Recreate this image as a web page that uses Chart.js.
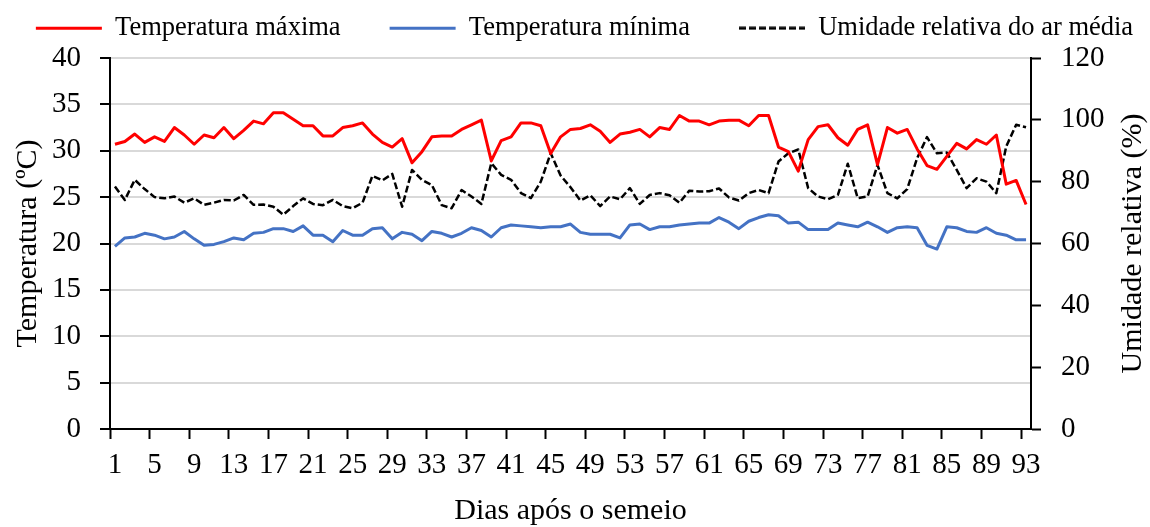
<!DOCTYPE html>
<html>
<head>
<meta charset="utf-8">
<script src="https://cdn.jsdelivr.net/npm/chart.js@4"></script>
<style>
  body { margin: 0; background: #fff; }
</style>
</head>
<body>
<canvas id="chart" width="1150" height="527"></canvas>
<script>
// dias apos o semeio
var dias = []
for (let d = 1; d <= 93; d++) dias.push(String(d))

var tempMax = [30.7, 31.0, 31.8, 30.9, 31.5, 31.0, 32.5, 31.7, 30.7, 31.7,
    31.4, 32.5, 31.3, 32.2, 33.2, 32.9, 34.1, 34.1, 33.4, 32.7,
    32.7, 31.6, 31.6, 32.5, 32.7, 33.0, 31.8, 30.9, 30.4, 31.3,
    28.7, 29.9, 31.5, 31.6, 31.6, 32.3, 32.8, 33.3, 28.9, 31.1,
    31.5, 33.0, 33.0, 32.7, 29.7, 31.5, 32.3, 32.4, 32.8, 32.1,
    30.9, 31.8, 32.0, 32.3, 31.5, 32.5, 32.3, 33.8, 33.2, 33.2,
    32.8, 33.2, 33.3, 33.3, 32.7, 33.8, 33.8, 30.4, 29.9, 27.8,
    31.2, 32.6, 32.8, 31.4, 30.6, 32.3, 32.8, 28.5, 32.5, 31.9,
    32.3, 30.2, 28.4, 28.0, 29.4, 30.8, 30.2, 31.2, 30.7, 31.7,
    26.4, 26.8, 24.2]

var tempMin = [19.7, 20.6, 20.7, 21.1, 20.9, 20.5, 20.7, 21.3, 20.5, 19.8,
    19.9, 20.2, 20.6, 20.4, 21.1, 21.2, 21.6, 21.6, 21.3, 21.9,
    20.9, 20.9, 20.2, 21.4, 20.9, 20.9, 21.6, 21.7, 20.5, 21.2,
    21.0, 20.3, 21.3, 21.1, 20.7, 21.1, 21.7, 21.4, 20.7, 21.7,
    22.0, 21.9, 21.8, 21.7, 21.8, 21.8, 22.1, 21.2, 21.0, 21.0,
    21.0, 20.6, 22.0, 22.1, 21.5, 21.8, 21.8, 22.0, 22.1, 22.2,
    22.2, 22.8, 22.3, 21.6, 22.4, 22.8, 23.1, 23.0, 22.2, 22.3,
    21.5, 21.5, 21.5, 22.2, 22.0, 21.8, 22.3, 21.8, 21.2, 21.7,
    21.8, 21.7, 19.8, 19.4, 21.8, 21.7, 21.3, 21.2, 21.7, 21.1,
    20.9, 20.4, 20.4]

var umidade = [78.4, 74.1, 80.6, 77.6, 75.0, 74.6, 75.2, 73.2, 74.6, 72.5,
    73.2, 74.1, 73.9, 75.7, 72.5, 72.6, 71.9, 69.3, 72.1, 74.6,
    72.8, 72.4, 74.1, 72.1, 71.4, 73.2, 81.9, 80.4, 82.5, 71.9,
    83.8, 80.6, 78.9, 72.4, 71.4, 77.3, 75.2, 72.8, 86.0, 82.2,
    80.6, 76.3, 74.7, 80.0, 89.2, 82.0, 78.2, 73.9, 75.6, 72.1,
    75.2, 74.3, 77.9, 72.8, 75.7, 76.3, 75.6, 73.2, 77.1, 76.8,
    76.9, 77.8, 74.9, 73.9, 76.3, 77.3, 76.3, 86.5, 89.2, 90.4,
    77.9, 75.2, 74.3, 75.7, 85.8, 74.7, 75.2, 85.4, 76.3, 74.6,
    77.6, 87.6, 94.4, 89.2, 89.4, 83.8, 77.9, 81.1, 80.0, 76.3,
    91.4, 98.4, 97.6]

var serif = "'Liberation Serif', 'Times New Roman', serif"
Chart.defaults.font.family = serif
Chart.defaults.color = '#000'

// legend symbol for the dashed series (the 'line' point style ignores the dash)
function dashedIcon(color, width, dash) {
    const c = document.createElement('canvas')
    c.width = 66
    c.height = 4
    const g = c.getContext('2d')
    g.strokeStyle = color
    g.lineWidth = width
    g.setLineDash(dash)
    g.beginPath()
    g.moveTo(0, 2)
    g.lineTo(66, 2)
    g.stroke()
    return c
}

// right axis title reads bottom to top like the left one
const rightTitle = {
    id: 'rightTitle',
    afterDraw(chart) {
        const ctx = chart.ctx
        ctx.save()
        ctx.translate(chart.width - 17, (chart.chartArea.top + chart.chartArea.bottom) / 2)
        ctx.rotate(-Math.PI / 2)
        ctx.font = '30px ' + serif
        ctx.fillStyle = '#000'
        ctx.textAlign = 'center'
        ctx.textBaseline = 'middle'
        ctx.fillText('Umidade relativa (%)', 0, 0)
        ctx.restore()
    }
}

var ctx = document.getElementById('chart').getContext('2d')
var myChart = new Chart(ctx, {
    type: 'line',
    data: {
        labels: dias,
        datasets: [{
            label: 'Temperatura máxima',
            data: tempMax,
            borderColor: '#ff0000',
            backgroundColor: '#ff0000',
            borderWidth: 3,
            yAxisID: 'y'
        }, {
            label: 'Temperatura mínima',
            data: tempMin,
            borderColor: '#4472c4',
            backgroundColor: '#4472c4',
            borderWidth: 3,
            yAxisID: 'y'
        }, {
            label: 'Umidade relativa do ar média',
            data: umidade,
            borderColor: '#000000',
            backgroundColor: '#000000',
            borderWidth: 2.5,
            borderDash: [7, 3],
            yAxisID: 'y1'
        }]
    },
    options: {
        responsive: false,
        animation: false,
        // negative padding so the legend row fits on one line near the top
        layout: { padding: { top: -34, left: -15, right: -34, bottom: 0 } },
        elements: {
            point: { radius: 0 },
            line: { tension: 0, borderJoinStyle: 'round' }
        },
        plugins: {
            legend: {
                position: 'top',
                labels: {
                    usePointStyle: true,
                    pointStyle: 'line',
                    pointStyleWidth: 66,
                    padding: 49,
                    font: { size: 26.5 },
                    generateLabels: chart => {
                        const items = Chart.defaults.plugins.legend.labels.generateLabels(chart)
                        items.forEach(it => {
                            const ds = chart.data.datasets[it.datasetIndex]
                            if (ds.borderDash) it.pointStyle = dashedIcon(ds.borderColor, 3, [7, 3])
                        })
                        return items
                    }
                }
            },
            // empty subtitle used as a small gap under the legend
            subtitle: {
                display: true,
                text: '',
                position: 'top',
                weight: 500,
                padding: 0,
                font: { size: 6.5, lineHeight: 1 }
            },
            tooltip: { enabled: false }
        },
        scales: {
            x: {
                offset: true,
                grid: {
                    offset: true,
                    drawOnChartArea: false,
                    tickLength: 10,
                    tickWidth: 2,
                    tickColor: c => (c.index % 4 === 0 ? '#000' : 'rgba(0,0,0,0)')
                },
                border: { color: '#000', width: 2 },
                ticks: {
                    autoSkip: false,
                    maxRotation: 0,
                    minRotation: 0,
                    padding: 9,
                    font: { size: 29 },
                    callback: (v, i) => (i % 4 === 0 ? dias[i] : '')
                },
                title: {
                    display: true,
                    text: 'Dias após o semeio',
                    font: { size: 30, lineHeight: 1 },
                    padding: { top: 0, bottom: 1 }
                },
                afterFit: s => { s.height = 98 }
            },
            y: {
                position: 'left',
                min: 0,
                max: 40,
                ticks: { stepSize: 5, padding: 19, font: { size: 29 } },
                grid: {
                    color: '#d9d9d9',
                    lineWidth: 2,
                    tickLength: 10,
                    tickWidth: 2,
                    tickColor: '#000'
                },
                border: { color: '#000', width: 2 },
                title: {
                    display: true,
                    text: 'Temperatura (ºC)',
                    font: { size: 30, lineHeight: 1 },
                    padding: { top: 28, bottom: 0 }
                },
                afterFit: s => { s.width = 125 }
            },
            y1: {
                position: 'right',
                min: 0,
                max: 120,
                ticks: { stepSize: 20, padding: 20, font: { size: 29 } },
                grid: {
                    drawOnChartArea: false,
                    tickLength: 10,
                    tickWidth: 2,
                    tickColor: '#000'
                },
                border: { color: '#000', width: 2 },
                afterFit: s => { s.width = 153 }
            }
        }
    },
    plugins: [rightTitle]
})
</script>
</body>
</html>
